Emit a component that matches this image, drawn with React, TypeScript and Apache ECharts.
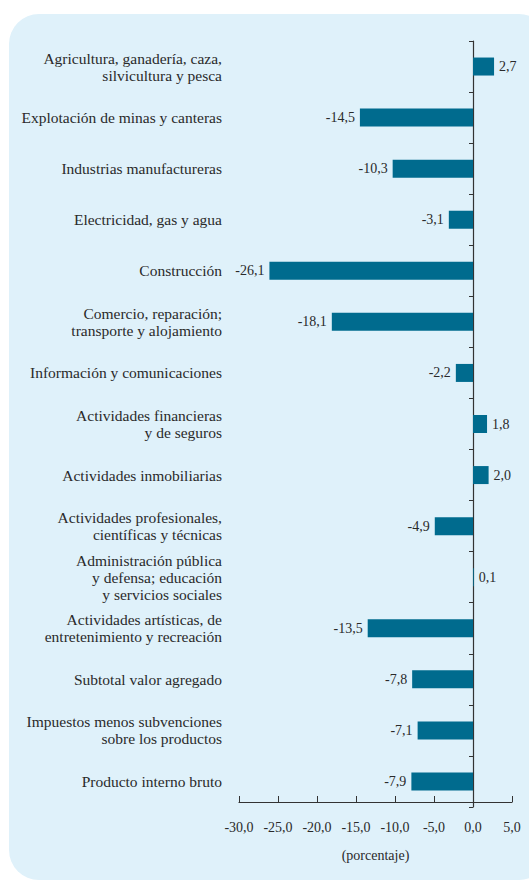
import React, { useEffect, useRef } from "react";
import * as echarts from "echarts";

const categories: string[] = [
  "Agricultura, ganadería, caza,\nsilvicultura y pesca",
  "Explotación de minas y canteras",
  "Industrias manufactureras",
  "Electricidad, gas y agua",
  "Construcción",
  "Comercio, reparación;\ntransporte y alojamiento",
  "Información y comunicaciones",
  "Actividades financieras\ny de seguros",
  "Actividades inmobiliarias",
  "Actividades profesionales,\ncientíficas y técnicas",
  "Administración pública\ny defensa; educación\ny servicios sociales",
  "Actividades artísticas, de\nentretenimiento y recreación",
  "Subtotal valor agregado",
  "Impuestos menos subvenciones\nsobre los productos",
  "Producto interno bruto",
];

const values: number[] = [2.7, -14.5, -10.3, -3.1, -26.1, -18.1, -2.2, 1.8, 2.0, -4.9, 0.1, -13.5, -7.8, -7.1, -7.9];

const axisName = "(porcentaje)";

const fmt = (v: number) => v.toFixed(1).replace(".", ",");

export default function App() {
  const ref = useRef<HTMLDivElement>(null);
  useEffect(() => {
    if (!ref.current) return;
    const chart = echarts.init(ref.current, undefined, { renderer: "svg" });
    const font = "Liberation Serif";
    const textColor = "#2a2a2a";
    const fs = 14;
    const catFs = 15.5;
    chart.setOption({
      animation: false,
      textStyle: { fontFamily: font },
      graphic: [
        {
          type: "rect",
          z: -10,
          silent: true,
          shape: { x: 9, y: 14, width: 540, height: 866, r: 30 },
          style: { fill: "#dff1fa" },
        },
      ],
      grid: { left: 239, right: 17, top: 41, bottom: 74, containLabel: false },
      xAxis: {
        type: "value",
        min: -30,
        max: 5,
        interval: 5,
        offset: -5,
        name: axisName,
        nameLocation: "middle",
        nameGap: 46,
        nameTextStyle: { color: textColor, fontSize: fs, fontFamily: font },
        axisLine: { show: true, onZero: false, lineStyle: { color: "#333", width: 1.2 } },
        axisTick: { show: true, inside: true, length: 6, lineStyle: { color: "#333" } },
        axisLabel: {
          color: textColor,
          fontSize: fs,
          fontFamily: font,
          margin: 18,
          formatter: (v: number) => fmt(v),
        },
        splitLine: { show: false },
      },
      yAxis: [
        {
          type: "category",
          data: categories,
          inverse: true,
          position: "left",
          axisLine: { show: false, onZero: false },
          axisTick: { show: false },
          axisLabel: {
            color: textColor,
            fontSize: catFs,
            fontFamily: font,
            margin: 17,
            lineHeight: 17,
            align: "right",
          },
        },
        {
          type: "category",
          data: categories,
          inverse: true,
          axisLine: { show: true, onZero: true, lineStyle: { color: "#333", width: 1.2 } },
          axisTick: { show: true, inside: true, length: 4, lineStyle: { color: "#333" } },
          axisLabel: { show: false },
        },
      ],
      series: [
        {
          type: "bar",
          yAxisIndex: 0,
          barWidth: 18,
          itemStyle: { color: "#006b8e" },
          data: values.map((v) => ({
            value: v,
            label: {
              show: true,
              position: v < 0 ? "left" : "right",
              distance: 5,
              color: textColor,
              fontSize: fs,
              fontFamily: font,
              formatter: () => fmt(v),
            },
          })),
        },
      ],
    });
    return () => chart.dispose();
  }, []);
  return (
    <div
      ref={ref}
      style={{ position: "absolute", left: 0, top: 0, width: 529, height: 881, background: "#ffffff" }}
    />
  );
}
